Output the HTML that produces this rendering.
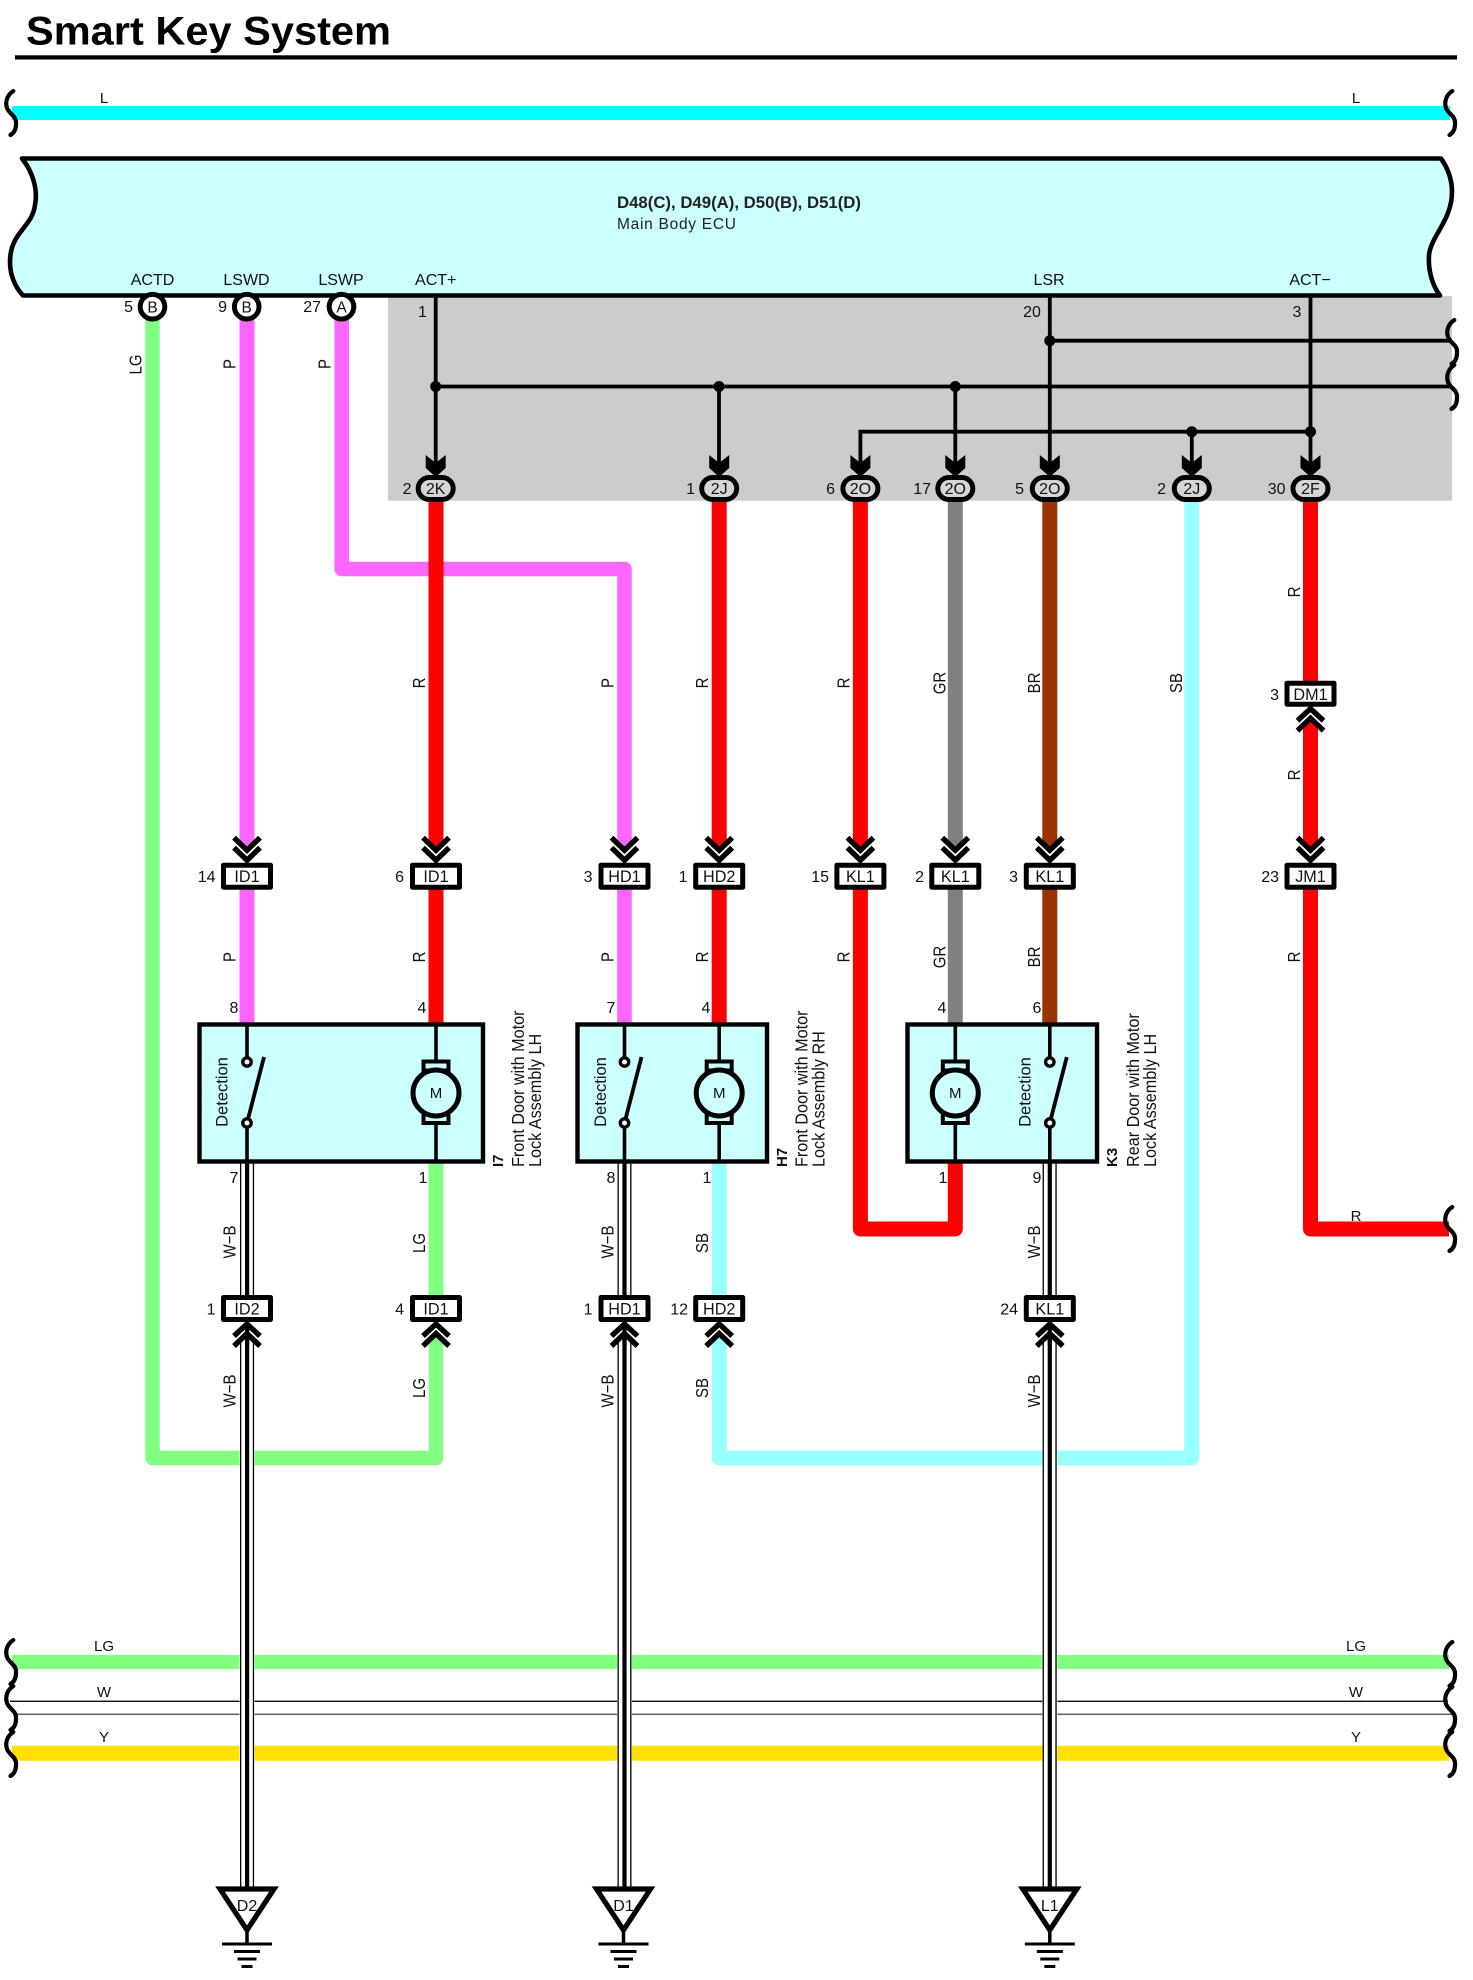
<!DOCTYPE html>
<html><head><meta charset="utf-8"><title>Smart Key System</title>
<style>
html,body{margin:0;padding:0;background:#fff}
svg{display:block}
text{font-family:"Liberation Sans",Arial,sans-serif;fill:#111}
</style></head><body>
<svg xmlns="http://www.w3.org/2000/svg" width="1473" height="1980" viewBox="0 0 1473 1980">
<defs>
<path id="br" d="M12.3,0 C6,4 4,11 6,17 C8,23 16,25 15,33 C15,38 13,42 9.5,44" fill="none" stroke="#000" stroke-width="4.2" stroke-linecap="round"/>
<g id="cd"><polygon points="-16,-24.7 0,-11 16,-24.7 16,1 -16,1" fill="#fff"/><polyline points="-13,-25 0,-12.5 13,-25" fill="none" stroke="#000" stroke-width="5.4"/><polyline points="-13,-15 0,-2.5 13,-15" fill="none" stroke="#000" stroke-width="5.4"/></g>
<g id="cu"><polygon points="-16,24 0,9 16,24 16,-1 -16,-1" fill="#fff"/><polyline points="-13,14 0,2 13,14" fill="none" stroke="#000" stroke-width="5.4"/><polyline points="-13,24 0,11.5 13,24" fill="none" stroke="#000" stroke-width="5.4"/></g>
<polygon id="ga" points="-10,0 0,8 10,0 10,13 0,22 -10,13" fill="#000"/>
<g id="sw"><line x1="0" y1="0" x2="0" y2="38" stroke="#000" stroke-width="3.6"/><line x1="0" y1="99" x2="0" y2="139" stroke="#000" stroke-width="3.6"/><line x1="0" y1="99" x2="17" y2="33" stroke="#000" stroke-width="3.8"/><circle cx="0" cy="38" r="4.2" fill="#fff" stroke="#000" stroke-width="3.4"/><circle cx="0" cy="99" r="4.2" fill="#fff" stroke="#000" stroke-width="3.4"/></g>
<g id="mo"><line x1="0" y1="0" x2="0" y2="38" stroke="#000" stroke-width="3.6"/><line x1="0" y1="100" x2="0" y2="139" stroke="#000" stroke-width="3.6"/><rect x="-12.5" y="38.5" width="25" height="9" fill="#ccffff" stroke="#000" stroke-width="4"/><rect x="-12.5" y="91" width="25" height="9" fill="#ccffff" stroke="#000" stroke-width="4"/><circle cx="0" cy="70" r="23" fill="#ccffff" stroke="#000" stroke-width="5"/></g>
<g id="gnd"><polygon points="-27,0 27,0 0,41" fill="#fff" stroke="#000" stroke-width="5.2" stroke-linejoin="miter"/><line x1="0" y1="41" x2="0" y2="55" stroke="#000" stroke-width="3.5"/><line x1="-25" y1="55" x2="25" y2="55" stroke="#000" stroke-width="3"/><line x1="-13" y1="62.5" x2="13" y2="62.5" stroke="#000" stroke-width="3"/><line x1="-9.5" y1="70" x2="9.5" y2="70" stroke="#000" stroke-width="3"/><line x1="-5.5" y1="77.5" x2="5.5" y2="77.5" stroke="#000" stroke-width="3"/></g>
</defs>

<!-- title -->
<text x="26" y="44.5" font-size="40" font-weight="bold" textLength="365" lengthAdjust="spacingAndGlyphs" style="fill:#000">Smart Key System</text>
<rect x="15" y="55.3" width="1442" height="4.2" fill="#000"/>

<!-- L bus -->
<rect x="12" y="106" width="1438" height="14" fill="#00ffff"/>
<text x="104" y="103" font-size="15" text-anchor="middle">L</text>
<text x="1356" y="103" font-size="15" text-anchor="middle">L</text>
<use href="#br" x="1" y="91"/><use href="#br" x="1440" y="91"/>

<!-- grey shade -->
<rect x="388" y="296" width="1064" height="204.7" fill="#cccccc"/>

<!-- ECU -->
<path d="M22,158.5 C33,172 38,190 35,205 C32,228 10,232 10,262 C10,275 15,287 23,295.5 L1440,295.5 C1432,285 1428,270 1429,255 C1431,236 1452,220 1452,192 C1452,178 1447,167 1441,158.5 Z" fill="#ccffff" stroke="#000" stroke-width="4.6" stroke-linejoin="round"/>
<text x="617" y="208" font-size="16.5" font-weight="bold" textLength="244" lengthAdjust="spacingAndGlyphs" style="fill:#222">D48(C), D49(A), D50(B), D51(D)</text>
<text x="617" y="229" font-size="15.5" textLength="119" style="fill:#222">Main Body ECU</text>
<g font-size="16" text-anchor="middle">
<text x="152.5" y="285">ACTD</text><text x="246.5" y="285">LSWD</text><text x="341" y="285">LSWP</text><text x="435.7" y="285">ACT+</text><text x="1049" y="285">LSR</text><text x="1310" y="285">ACT−</text>
</g>

<!-- shaded black lines -->
<g fill="none" stroke="#000" stroke-width="3.8">
<line x1="435.7" y1="296" x2="435.7" y2="465"/>
<line x1="719" y1="386.5" x2="719" y2="465"/>
<line x1="955.3" y1="386.5" x2="955.3" y2="465"/>
<line x1="1049.8" y1="296" x2="1049.8" y2="465"/>
<line x1="1191.8" y1="431.7" x2="1191.8" y2="465"/>
<line x1="1310.5" y1="296" x2="1310.5" y2="465"/>
<polyline points="860.4,465 860.4,431.7 1310.5,431.7"/>
<line x1="1049.8" y1="340.7" x2="1451" y2="340.7"/>
<line x1="435.7" y1="386.5" x2="1451" y2="386.5"/>
</g>
<g fill="#000">
<circle cx="435.7" cy="386.5" r="5.5"/><circle cx="719" cy="386.5" r="5.5"/><circle cx="955.3" cy="386.5" r="5.5"/><circle cx="1049.8" cy="340.7" r="5.5"/><circle cx="1191.8" cy="431.7" r="5.5"/><circle cx="1310.5" cy="431.7" r="5.5"/>
</g>
<use href="#br" x="1442" y="320"/><use href="#br" x="1442" y="365"/>

<!-- coloured wires -->
<g fill="none" stroke-width="15" stroke-linejoin="round">
<path d="M152.5,316 V1458 H436 V1290" stroke="#80ff80" stroke-width="14.5"/>
<path d="M436,1160 V1300" stroke="#80ff80"/>
<path d="M247,316 V1025" stroke="#ff66ff"/>
<path d="M341.7,316 V569 H624.5 V1025" stroke="#ff66ff" stroke-width="14.5"/>
<path d="M436,498 V1025" stroke="#ff0000"/>
<path d="M719.2,498 V1025" stroke="#ff0000"/>
<path d="M1191.8,498 V1458 H719.2 V1160" stroke="#99ffff"/>
<path d="M955.3,498 V1025" stroke="#808080"/>
<path d="M1049.8,498 V1025" stroke="#993300"/>
<path d="M860.4,498 V1229 H955.3 V1160" stroke="#ff0000"/>
<path d="M1310.5,498 V1229 H1449" stroke="#ff0000"/>
</g>

<!-- bottom buses -->
<rect x="12" y="1655" width="1437" height="14" fill="#80ff80"/>
<rect x="12" y="1745.7" width="1437" height="15" fill="#ffe000"/>
<rect x="10" y="1700.6" width="1438" height="1.4" fill="#111"/>
<rect x="16" y="1713.5" width="1436" height="1.6" fill="#666"/>
<g font-size="15" text-anchor="middle">
<text x="104" y="1651">LG</text><text x="104" y="1697">W</text><text x="104" y="1742">Y</text>
<text x="1356" y="1651">LG</text><text x="1356" y="1697">W</text><text x="1356" y="1742">Y</text>
</g>
<use href="#br" x="1" y="1640"/><use href="#br" x="1" y="1686"/><use href="#br" x="1" y="1732"/>
<use href="#br" x="1440" y="1642"/><use href="#br" x="1440" y="1687"/><use href="#br" x="1440" y="1732"/>
<use href="#br" x="1440" y="1207"/>

<!-- W-B wires -->
<g>
<rect x="239.5" y="1163" width="15" height="725" fill="#fff"/>
<rect x="617" y="1163" width="15" height="725" fill="#fff"/>
<rect x="1042.3" y="1163" width="15" height="725" fill="#fff"/>
<g fill="#000">
<rect x="240" y="1163" width="1.3" height="725"/><rect x="245" y="1163" width="4.2" height="725"/><rect x="252.8" y="1163" width="1.3" height="725"/>
<rect x="617.5" y="1163" width="1.3" height="725"/><rect x="622.4" y="1163" width="4.2" height="725"/><rect x="630.2" y="1163" width="1.3" height="725"/>
<rect x="1042.6" y="1163" width="1.3" height="725"/><rect x="1047.7" y="1163" width="4.2" height="725"/><rect x="1055.4" y="1163" width="1.3" height="725"/>
</g>
</g>

<!-- component boxes -->
<g fill="#ccffff" stroke="#000" stroke-width="4.4">
<rect x="199.5" y="1024.5" width="283.5" height="137"/>
<rect x="577.5" y="1024.5" width="189.5" height="137"/>
<rect x="907.5" y="1024.5" width="189.5" height="137"/>
</g>
<use href="#sw" x="247" y="1024"/><use href="#mo" x="436" y="1023"/>
<use href="#sw" x="624.5" y="1024"/><use href="#mo" x="719.2" y="1023"/>
<use href="#sw" x="1049.8" y="1024"/><use href="#mo" x="955.3" y="1023"/>
<g font-size="15" text-anchor="middle">
<text x="436" y="1098">M</text><text x="719.2" y="1098">M</text><text x="955.3" y="1098">M</text>
</g>
<g font-size="16.5" text-anchor="middle">
<text transform="translate(227.5,1092) rotate(-90)">Detection</text>
<text transform="translate(606,1092) rotate(-90)">Detection</text>
<text transform="translate(1030.5,1092) rotate(-90)">Detection</text>
</g>

<!-- component names -->
<g font-size="16.2">
<text transform="translate(503,1167) rotate(-90)" font-weight="bold" style="font-size:15px">I7</text>
<text transform="translate(524,1167) rotate(-90) scale(1,1.1)">Front Door with Motor</text>
<text transform="translate(541,1167) rotate(-90) scale(1,1.1)">Lock Assembly LH</text>
<text transform="translate(787,1167) rotate(-90)" font-weight="bold" style="font-size:15px">H7</text>
<text transform="translate(807.5,1167) rotate(-90) scale(1,1.1)">Front Door with Motor</text>
<text transform="translate(824.5,1167) rotate(-90) scale(1,1.1)">Lock Assembly RH</text>
<text transform="translate(1117,1167) rotate(-90)" font-weight="bold" style="font-size:15px">K3</text>
<text transform="translate(1139,1167) rotate(-90) scale(1,1.1)">Rear Door with Motor</text>
<text transform="translate(1156,1167) rotate(-90) scale(1,1.1)">Lock Assembly LH</text>
</g>

<!-- chevrons -->
<use href="#cd" x="247" y="862.7"/><use href="#cd" x="436" y="862.7"/><use href="#cd" x="624.5" y="862.7"/><use href="#cd" x="719.2" y="862.7"/><use href="#cd" x="860.4" y="862.7"/><use href="#cd" x="955.3" y="862.7"/><use href="#cd" x="1049.8" y="862.7"/><use href="#cd" x="1310.5" y="862.7"/>
<use href="#cu" x="247" y="1322"/><use href="#cu" x="436" y="1322"/><use href="#cu" x="624.5" y="1322"/><use href="#cu" x="719.2" y="1322"/><use href="#cu" x="1049.8" y="1322"/><use href="#cu" x="1310.5" y="706.7"/>
<g fill="#000"><rect x="245" y="1322" width="4.2" height="24"/><rect x="622.4" y="1322" width="4.2" height="24"/><rect x="1047.7" y="1322" width="4.2" height="24"/></g>

<!-- rect connectors -->
<g fill="#fff" stroke="#000" stroke-width="5" stroke-linejoin="round">
<rect x="223.5" y="865.2" width="47" height="22"/><rect x="412.5" y="865.2" width="47" height="22"/><rect x="601" y="865.2" width="47" height="22"/><rect x="695.7" y="865.2" width="47" height="22"/><rect x="836.9" y="865.2" width="47" height="22"/><rect x="931.8" y="865.2" width="47" height="22"/><rect x="1026.3" y="865.2" width="47" height="22"/><rect x="1287" y="865.2" width="47" height="22"/>
<rect x="1287" y="683.2" width="47" height="21"/>
<rect x="223.5" y="1297.5" width="47" height="22"/><rect x="412.5" y="1297.5" width="47" height="22"/><rect x="601" y="1297.5" width="47" height="22"/><rect x="695.7" y="1297.5" width="47" height="22"/><rect x="1026.3" y="1297.5" width="47" height="22"/>
</g>
<g font-size="16.2" text-anchor="middle">
<text x="247" y="881.8">ID1</text><text x="436" y="881.8">ID1</text><text x="624.5" y="881.8">HD1</text><text x="719.2" y="881.8">HD2</text><text x="860.4" y="881.8">KL1</text><text x="955.3" y="881.8">KL1</text><text x="1049.8" y="881.8">KL1</text><text x="1310.5" y="881.8">JM1</text>
<text x="1310.5" y="699.8">DM1</text>
<text x="247" y="1314.3">ID2</text><text x="436" y="1314.3">ID1</text><text x="624.5" y="1314.3">HD1</text><text x="719.2" y="1314.3">HD2</text><text x="1049.8" y="1314.3">KL1</text>
</g>
<g font-size="16" text-anchor="end">
<text x="215.5" y="881.8">14</text><text x="404" y="881.8">6</text><text x="592.5" y="881.8">3</text><text x="687.5" y="881.8">1</text><text x="829" y="881.8">15</text><text x="924" y="881.8">2</text><text x="1018" y="881.8">3</text><text x="1279" y="881.8">23</text>
<text x="1279" y="699.8">3</text>
<text x="215.5" y="1314.3">1</text><text x="404" y="1314.3">4</text><text x="592.5" y="1314.3">1</text><text x="688" y="1314.3">12</text><text x="1018" y="1314.3">24</text>
</g>

<!-- round pins -->
<g fill="#fff" stroke="#000" stroke-width="5">
<circle cx="152.5" cy="306.7" r="12.3"/><circle cx="246.7" cy="306.7" r="12.3"/><circle cx="341.5" cy="306.7" r="12.3"/>
</g>
<g font-size="15.5" text-anchor="middle"><text x="152.5" y="312.3">B</text><text x="246.7" y="312.3">B</text><text x="341.5" y="312.3">A</text></g>
<g font-size="16" text-anchor="end"><text x="133" y="312">5</text><text x="227" y="312">9</text><text x="321" y="312">27</text></g>

<!-- oval pins -->
<use href="#ga" x="435.7" y="455"/><use href="#ga" x="719.2" y="455"/><use href="#ga" x="860.4" y="455"/><use href="#ga" x="955.3" y="455"/><use href="#ga" x="1049.8" y="455"/><use href="#ga" x="1191.8" y="455"/><use href="#ga" x="1310.5" y="455"/>
<g fill="#d6d6d6" stroke="#000" stroke-width="5">
<rect x="418.2" y="477.5" width="35" height="22" rx="11"/><rect x="701.7" y="477.5" width="35" height="22" rx="11"/><rect x="842.9" y="477.5" width="35" height="22" rx="11"/><rect x="937.8" y="477.5" width="35" height="22" rx="11"/><rect x="1032.3" y="477.5" width="35" height="22" rx="11"/><rect x="1174.3" y="477.5" width="35" height="22" rx="11"/><rect x="1293" y="477.5" width="35" height="22" rx="11"/>
</g>
<g font-size="16" text-anchor="middle">
<text x="435.7" y="494">2K</text><text x="719.2" y="494">2J</text><text x="860.4" y="494">2O</text><text x="955.3" y="494">2O</text><text x="1049.8" y="494">2O</text><text x="1191.8" y="494">2J</text><text x="1310.5" y="494">2F</text>
</g>
<g font-size="16" text-anchor="end">
<text x="411.5" y="494">2</text><text x="695" y="494">1</text><text x="835" y="494">6</text><text x="931" y="494">17</text><text x="1024" y="494">5</text><text x="1166" y="494">2</text><text x="1285.5" y="494">30</text>
</g>
<g font-size="16" text-anchor="middle">
<text x="422.5" y="317">1</text><text x="1032" y="317">20</text><text x="1297" y="317">3</text>
<text x="234" y="1013">8</text><text x="422" y="1013">4</text><text x="611" y="1013">7</text><text x="706" y="1013">4</text><text x="942" y="1013">4</text><text x="1037" y="1013">6</text>
<text x="234" y="1183">7</text><text x="423" y="1183">1</text><text x="611" y="1183">8</text><text x="707" y="1183">1</text><text x="943" y="1183">1</text><text x="1037" y="1183">9</text>
</g>
<text x="1356" y="1221" font-size="15" text-anchor="middle">R</text>

<!-- rotated wire labels -->
<g font-size="15" text-anchor="middle">
<text transform="translate(141.5,364.5) rotate(-90) scale(1,1.2)">LG</text>
<text transform="translate(235.5,364) rotate(-90) scale(1,1.2)">P</text>
<text transform="translate(330.5,364) rotate(-90) scale(1,1.2)">P</text>
<text transform="translate(425,683) rotate(-90) scale(1,1.2)">R</text>
<text transform="translate(613.5,683) rotate(-90) scale(1,1.2)">P</text>
<text transform="translate(708,683) rotate(-90) scale(1,1.2)">R</text>
<text transform="translate(849.5,683) rotate(-90) scale(1,1.2)">R</text>
<text transform="translate(945.5,683) rotate(-90) scale(1,1.2)">GR</text>
<text transform="translate(1040,683) rotate(-90) scale(1,1.2)">BR</text>
<text transform="translate(1182,683) rotate(-90) scale(1,1.2)">SB</text>
<text transform="translate(1300,592) rotate(-90) scale(1,1.2)">R</text>
<text transform="translate(1300,775) rotate(-90) scale(1,1.2)">R</text>
<text transform="translate(235.5,957) rotate(-90) scale(1,1.2)">P</text>
<text transform="translate(425,957) rotate(-90) scale(1,1.2)">R</text>
<text transform="translate(613.5,957) rotate(-90) scale(1,1.2)">P</text>
<text transform="translate(708,957) rotate(-90) scale(1,1.2)">R</text>
<text transform="translate(849.5,957) rotate(-90) scale(1,1.2)">R</text>
<text transform="translate(945.5,957) rotate(-90) scale(1,1.2)">GR</text>
<text transform="translate(1040,957) rotate(-90) scale(1,1.2)">BR</text>
<text transform="translate(1300,957) rotate(-90) scale(1,1.2)">R</text>
<text transform="translate(235.5,1242) rotate(-90) scale(1,1.2)">W−B</text>
<text transform="translate(425,1243) rotate(-90) scale(1,1.2)">LG</text>
<text transform="translate(613.5,1242) rotate(-90) scale(1,1.2)">W−B</text>
<text transform="translate(708,1243) rotate(-90) scale(1,1.2)">SB</text>
<text transform="translate(1040,1242) rotate(-90) scale(1,1.2)">W−B</text>
<text transform="translate(235.5,1391) rotate(-90) scale(1,1.2)">W−B</text>
<text transform="translate(425,1388) rotate(-90) scale(1,1.2)">LG</text>
<text transform="translate(613.5,1391) rotate(-90) scale(1,1.2)">W−B</text>
<text transform="translate(708,1388) rotate(-90) scale(1,1.2)">SB</text>
<text transform="translate(1040,1391) rotate(-90) scale(1,1.2)">W−B</text>
</g>

<!-- grounds -->
<use href="#gnd" x="247" y="1889"/><use href="#gnd" x="623.5" y="1889"/><use href="#gnd" x="1049.8" y="1889"/>
<g font-size="16" text-anchor="middle">
<text x="247" y="1911">D2</text><text x="623.5" y="1911">D1</text><text x="1049.8" y="1911">L1</text>
</g>
</svg>
</body></html>
